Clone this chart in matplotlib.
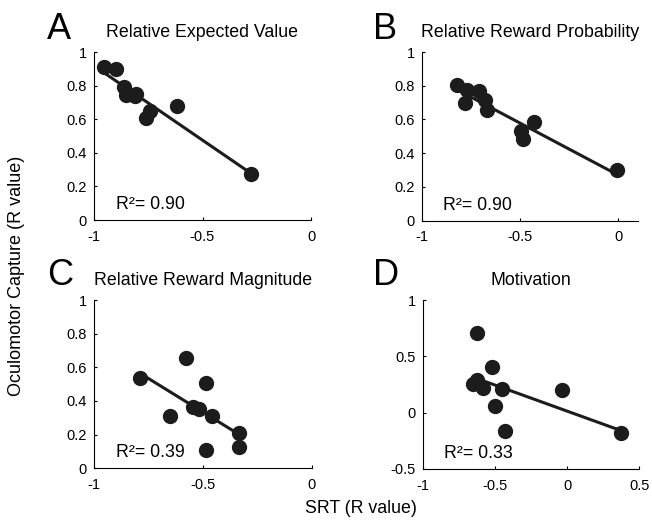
import numpy as np
import matplotlib
matplotlib.use("Agg")
import matplotlib.pyplot as plt

plt.rcParams['font.family'] = ['Liberation Sans', 'DejaVu Sans']
plt.rcParams['axes.unicode_minus'] = False

# ---- data ----
a_x = [-0.952, -0.900, -0.862, -0.853, -0.811, -0.805, -0.762, -0.742, -0.619, -0.278]
a_y = [0.908, 0.899, 0.789, 0.746, 0.736, 0.750, 0.606, 0.650, 0.680, 0.274]

b_x = [-0.819, -0.772, -0.780, -0.707, -0.679, -0.670, -0.497, -0.487, -0.430, -0.007]
b_y = [0.806, 0.772, 0.697, 0.766, 0.717, 0.653, 0.529, 0.485, 0.584, 0.297]

c_x = [-0.789, -0.579, -0.487, -0.651, -0.544, -0.518, -0.459, -0.332, -0.332, -0.487]
c_y = [0.535, 0.653, 0.505, 0.313, 0.366, 0.352, 0.313, 0.212, 0.129, 0.109]

d_x = [-0.621, -0.519, -0.623, -0.651, -0.581, -0.449, -0.500, -0.430, -0.037, 0.372]
d_y = [0.707, 0.405, 0.293, 0.251, 0.222, 0.213, 0.056, -0.166, 0.204, -0.178]

letters = ['A', 'B', 'C', 'D']
titles = ['Relative Expected Value', 'Relative Reward Probability',
          'Relative Reward Magnitude', 'Motivation']
r2_labels = ['R\u00b2= 0.90', 'R\u00b2= 0.90', 'R\u00b2= 0.39', 'R\u00b2= 0.33']

xticks_list = [[-1, -0.5, 0], [-1, -0.5, 0], [-1, -0.5, 0], [-1, -0.5, 0, 0.5]]
xticklabels_list = [['-1', '-0.5', '0'], ['-1', '-0.5', '0'], ['-1', '-0.5', '0'],
                    ['-1', '-0.5', '0', '0.5']]
yticks_list = [[0, 0.2, 0.4, 0.6, 0.8, 1]] * 3 + [[-0.5, 0, 0.5, 1]]
yticklabels_list = [['0', '0.2', '0.4', '0.6', '0.8', '1']] * 3 + [['-0.5', '0', '0.5', '1']]
xlims = [(-1, 0), (-1, 0.1), (-1, 0), (-1, 0.5)]
ylims = [(0, 1), (0, 1), (0, 1), (-0.5, 1)]

xs = [a_x, b_x, c_x, d_x]
ys = [a_y, b_y, c_y, d_y]

W, H = 652, 530
fig = plt.figure(figsize=(W / 100, H / 100), dpi=100)

# axes boxes in pixels: left, top, right, bottom
boxes = [(94, 52, 311, 220), (421.7, 52, 638, 220.5),
         (94, 300, 311.5, 468.3), (422.7, 300, 639.3, 469)]
col = '#1c1c1c'
for i in range(4):
    l, t, r, b = boxes[i]
    ax = fig.add_axes([l / W, 1 - b / H, (r - l) / W, (b - t) / H])
    x = np.array(xs[i]); y = np.array(ys[i])
    ax.plot(x, y, 'o', color=col, markersize=10, zorder=3, clip_on=False)
    k, c0 = np.polyfit(x, y, 1)
    xx = np.array([x.min(), x.max()])
    ax.plot(xx, k * xx + c0, '-', color=col, lw=2.2, zorder=2)
    ax.set_xlim(*xlims[i]); ax.set_ylim(*ylims[i])
    ax.set_xticks(xticks_list[i]); ax.set_xticklabels(xticklabels_list[i])
    ax.set_yticks(yticks_list[i]); ax.set_yticklabels(yticklabels_list[i])
    for s in ['top', 'right']:
        ax.spines[s].set_visible(False)
    for s in ['left', 'bottom']:
        ax.spines[s].set_linewidth(0.8)
    ax.tick_params(direction='in', length=2.5, width=0.8, labelsize=10.5)
    ax.tick_params(axis='x', pad=7)
    ax.tick_params(axis='y', pad=5)
    ax.text(0.5, 1 + 15 / (b - t), titles[i], transform=ax.transAxes,
            ha='center', va='baseline', fontsize=12.8)
    ax.text(0.10, 0.065, r2_labels[i], transform=ax.transAxes,
            ha='left', va='baseline', fontsize=12.8)
    lx = 47 if i in (0, 2) else 373
    ly = 39 if i < 2 else 285
    fig.text(lx / W, 1 - ly / H, letters[i], ha='left', va='baseline', fontsize=26)

fig.text(17 / W, 1 - 275.5 / H, 'Oculomotor Capture (R value)', rotation=90,
         ha='center', va='center', fontsize=13)
fig.text(361 / W, 1 - 512.7 / H, 'SRT (R value)', ha='center', va='baseline',
         fontsize=12.8)

fig.savefig('out.png', dpi=100)
